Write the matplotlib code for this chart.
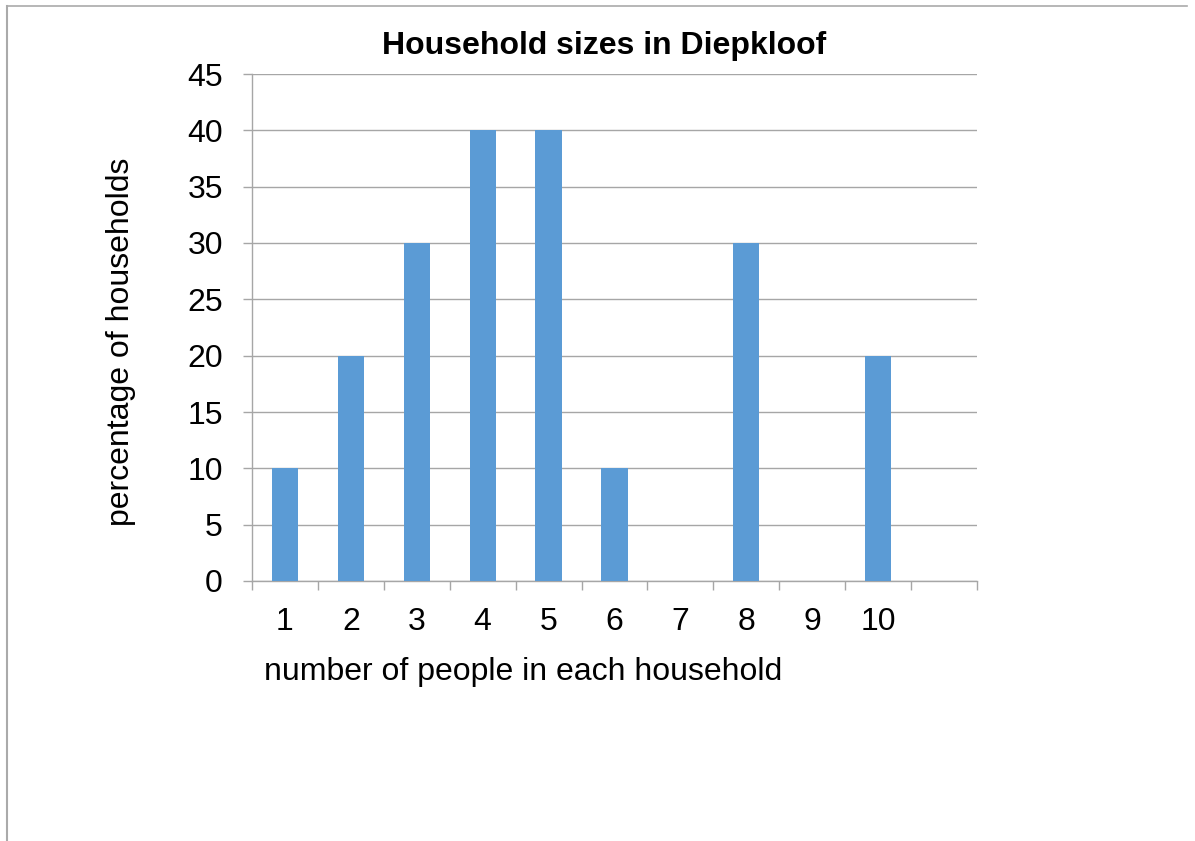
import matplotlib
matplotlib.use("Agg")
import matplotlib.pyplot as plt
from matplotlib.lines import Line2D

# data
sizes = ["1", "2", "3", "4", "5", "6", "7", "8", "9", "10", ""]
percent = [10, 20, 30, 40, 40, 10, 0, 30, 0, 20, 0]
y_ticks = [0, 5, 10, 15, 20, 25, 30, 35, 40, 45]

plt.rcParams['font.family'] = ['Liberation Sans', 'DejaVu Sans']

fig = plt.figure(figsize=(11.95, 8.41), dpi=100)
ax = fig.add_axes([252 / 1195, 1 - 581 / 841, 725 / 1195, 507 / 841])

pos = list(range(len(sizes)))
ax.bar(pos, percent, width=0.4, color='#5B9BD5', zorder=3)

ax.set_xlim(-0.5, len(sizes) - 0.5)
ax.set_ylim(0, 45)
ax.set_yticks(y_ticks)
ax.yaxis.grid(True, color='#A6A6A6', linewidth=1.0, zorder=0)
ax.tick_params(axis='y', labelsize=23, length=6.5, color='#A6A6A6', width=1.0, pad=14.5)

# category boundaries as ticks, labels in the middle
ax.set_xticks([p - 0.5 for p in pos] + [len(sizes) - 0.5])
ax.set_xticklabels([])
ax.set_xticks(pos, minor=True)
ax.set_xticklabels(sizes, minor=True)
ax.tick_params(axis='x', which='major', length=6.5, color='#A6A6A6', width=1.0)
ax.tick_params(axis='x', which='minor', length=0, labelsize=23, pad=19)

for side in ['top', 'right']:
    ax.spines[side].set_visible(False)
for side in ['left', 'bottom']:
    ax.spines[side].set_color('#A6A6A6')
    ax.spines[side].set_linewidth(1.0)

fig.text(604 / 1195, 1 - 46 / 841, "Household sizes in Diepkloof", ha='center', va='center',
         fontsize=23, fontweight='bold')
fig.text(523 / 1195, 1 - 672 / 841, "number of people in each household", ha='center', va='center',
         fontsize=23)
fig.text(121 / 1195, 1 - 342 / 841, "percentage of households", ha='center', va='center',
         fontsize=23, rotation=90)

# outer frame (top and left only)
fig.add_artist(Line2D([7 / 1195, 1187 / 1195], [1 - 6 / 841, 1 - 6 / 841], color='#AAAAAA', linewidth=1.2))
fig.add_artist(Line2D([7 / 1195, 7 / 1195], [1 - 6 / 841, 0], color='#AAAAAA', linewidth=1.5))

fig.savefig("out.png", dpi=100)
